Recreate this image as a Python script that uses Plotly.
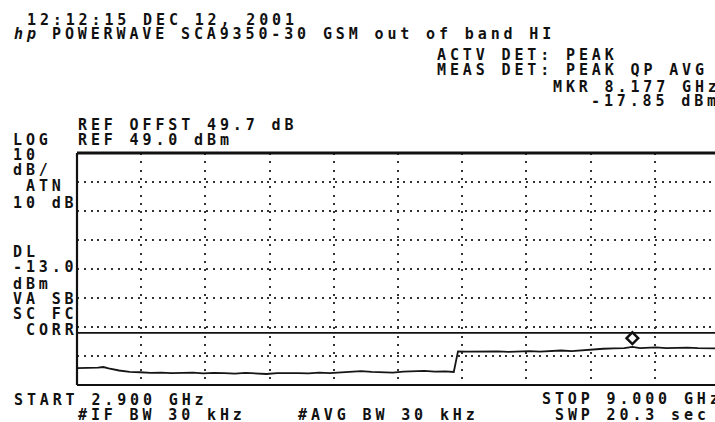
import plotly.graph_objects as go

# ---------------- data ----------------
FREQ_GHZ = [2.9, 3.0, 3.1, 3.15, 3.2, 3.3, 3.4, 3.5, 3.6, 3.7, 3.8, 3.9, 4.0, 4.1, 4.2,
            4.3, 4.4, 4.5, 4.6, 4.7, 4.8, 4.9, 5.0, 5.1, 5.2, 5.3, 5.4, 5.5, 5.6, 5.7,
            5.8, 5.9, 6.0, 6.1, 6.2, 6.3, 6.4, 6.48, 6.52, 6.6, 6.7, 6.8, 6.9, 7.0, 7.1,
            7.2, 7.3, 7.4, 7.5, 7.6, 7.7, 7.8, 7.9, 8.0, 8.1, 8.177, 8.25, 8.3, 8.4, 8.5,
            8.6, 8.7, 8.8, 8.9, 9.0]
LEVEL_DBM = [-25.2, -25.2, -25.0, -24.8, -25.3, -26.0, -26.5, -26.6, -26.8, -26.7, -26.9,
             -26.8, -26.7, -27.0, -26.8, -26.9, -27.1, -26.8, -26.9, -27.2, -26.9, -26.8,
             -26.9, -27.0, -26.7, -26.9, -26.6, -26.4, -26.2, -26.5, -26.6, -26.7, -26.4,
             -26.3, -26.1, -26.4, -26.3, -26.5, -19.4, -19.5, -19.4, -19.5, -19.4, -19.6,
             -19.4, -19.3, -19.5, -19.2, -19.1, -19.3, -19.0, -18.9, -18.5, -18.4, -18.3,
             -17.85, -18.3, -18.2, -18.0, -18.3, -18.2, -18.1, -18.3, -18.3, -18.4]

START_GHZ = 2.9
STOP_GHZ = 9.0
REF_DBM = 49.0
REF_OFFSET_DB = 49.7
DB_PER_DIV = 10
N_XDIV = 10
N_YDIV = 8
ATTEN_DB = 10
DISPLAY_LINE_DBM = -13.0
MKR_GHZ = 8.177
MKR_DBM = -17.85
SWEEP_S = 20.3
IF_BW_KHZ = 30
AVG_BW_KHZ = 30

# ---------------- layout geometry ----------------
W, H = 715, 422
ML, MT, MB = 77, 153, 37
PLOT_W = W - ML
GRATICULE_W = 642          # full 10-division graticule runs slightly past the window
PLOT_H = H - MT - MB

span = STOP_GHZ - START_GHZ
x_end = START_GHZ + span * PLOT_W / GRATICULE_W
y_bot = REF_DBM - DB_PER_DIV * N_YDIV

fig = go.Figure()
fig.add_trace(go.Scatter(x=FREQ_GHZ, y=LEVEL_DBM, mode="lines",
                         line=dict(color="#151515", width=1.8), hoverinfo="skip",
                         showlegend=False))
# marker diamond drawn just above the marked point
fig.add_trace(go.Scatter(x=[MKR_GHZ], y=[MKR_DBM + 3.0], mode="markers",
                         marker=dict(symbol="diamond-open", size=9, color="#111",
                                     line=dict(color="#111", width=2.5)),
                         hoverinfo="skip", showlegend=False))

fig.update_xaxes(range=[START_GHZ, x_end], tick0=START_GHZ, dtick=span / N_XDIV,
                 showgrid=True, gridcolor="#333", gridwidth=1.5, griddash="2px,6.3px",
                 showticklabels=False, ticks="", zeroline=False, showline=False)
fig.update_yaxes(range=[y_bot, REF_DBM], tick0=REF_DBM, dtick=DB_PER_DIV,
                 showgrid=True, gridcolor="#333", gridwidth=1.5, griddash="2px,4.8px",
                 showticklabels=False, ticks="", zeroline=False, showline=False)

shapes = [
    dict(type="line", xref="paper", yref="y", x0=0, x1=1,
         y0=DISPLAY_LINE_DBM, y1=DISPLAY_LINE_DBM, line=dict(color="#111", width=1.8)),
    dict(type="line", xref="paper", yref="paper", x0=0, x1=1, y0=1, y1=1,
         line=dict(color="#111", width=3)),
    dict(type="line", xref="paper", yref="paper", x0=0, x1=1, y0=0, y1=0,
         line=dict(color="#111", width=2.2)),
    dict(type="line", xref="paper", yref="paper", x0=0, x1=0, y0=0, y1=1,
         line=dict(color="#111", width=2.2)),
]

CH = 12.9  # character pitch of the analyzer font
DY = 1.5   # small downward nudge of all texts
texts = [
    ("12:12:15 DEC 12, 2001", 26.7, 18.7),
    ("POWERWAVE SCA9350-30 GSM out of band HI", 51.7, 32.8),
    ("ACTV DET: PEAK", 437.3, 53.8),
    ("MEAS DET: PEAK QP AVG", 437.3, 68.7),
    (f"MKR {MKR_GHZ:.3f} GHz", 552.7, 85.3),
    (f"{MKR_DBM:.2f} dBm", 591.4, 99.7),
    (f"REF OFFST {REF_OFFSET_DB:.1f} dB", 78, 123.5),
    ("LOG", 13.3, 138.4),
    (f"REF {REF_DBM:.1f} dBm", 78, 138.4),
    (f"{DB_PER_DIV}", 13.3, 153.0),
    ("dB/", 13.3, 168.7),
    ("ATN", 13.3 + CH, 184.5),
    (f"{ATTEN_DB} dB", 13.3, 201.7),
    ("DL", 13.3, 250.0),
    (f"{DISPLAY_LINE_DBM:.1f}", 13.3, 265.8),
    ("dBm", 13.3, 282.2),
    ("VA SB", 13.3, 297.5),
    ("SC FC", 13.3, 312.8),
    ("CORR", 13.3 + CH, 328.7),
    (f"START {START_GHZ:.3f} GHz", 14, 398.0),
    (f"#IF BW {IF_BW_KHZ} kHz", 78.3, 413.3),
    (f"#AVG BW {AVG_BW_KHZ} kHz", 298.3, 413.3),
    (f"STOP {STOP_GHZ:.3f} GHz", 541.7, 397.4),
    (f"SWP {SWEEP_S:.1f} sec", 541.7 + CH, 413.3),
]

font = dict(family="DejaVu Sans Mono", size=15, color="#111", weight="bold")
annotations = []
for txt, px, py in texts:
    annotations.append(dict(text=txt, xref="paper", yref="paper",
                            x=(px - 2 - ML) / PLOT_W, y=(H - MB - py - DY) / PLOT_H,
                            xanchor="left", yanchor="middle", align="left",
                            showarrow=False, font=font))
# analyzer logo
annotations.append(dict(text="<i>hp</i>", xref="paper", yref="paper",
                        x=(14 - 2 - ML) / PLOT_W, y=(H - MB - 32.8 - DY) / PLOT_H,
                        xanchor="left", yanchor="middle", align="left", showarrow=False,
                        font=dict(family="DejaVu Sans Mono", size=15, color="#111",
                                  weight="bold")))

fig.update_layout(width=W, height=H, margin=dict(l=ML, r=0, t=MT, b=MB, pad=0),
                  paper_bgcolor="white", plot_bgcolor="white",
                  shapes=shapes, annotations=annotations, showlegend=False)

post = ("var s=document.createElement('style');"
        "s.textContent='html,body{margin:0;padding:0;overflow:hidden}"
        ".annotation-text{letter-spacing:3.87px}';"
        "document.head.appendChild(s);")
fig.write_html("out.html", config={"displayModeBar": False}, post_script=post)
